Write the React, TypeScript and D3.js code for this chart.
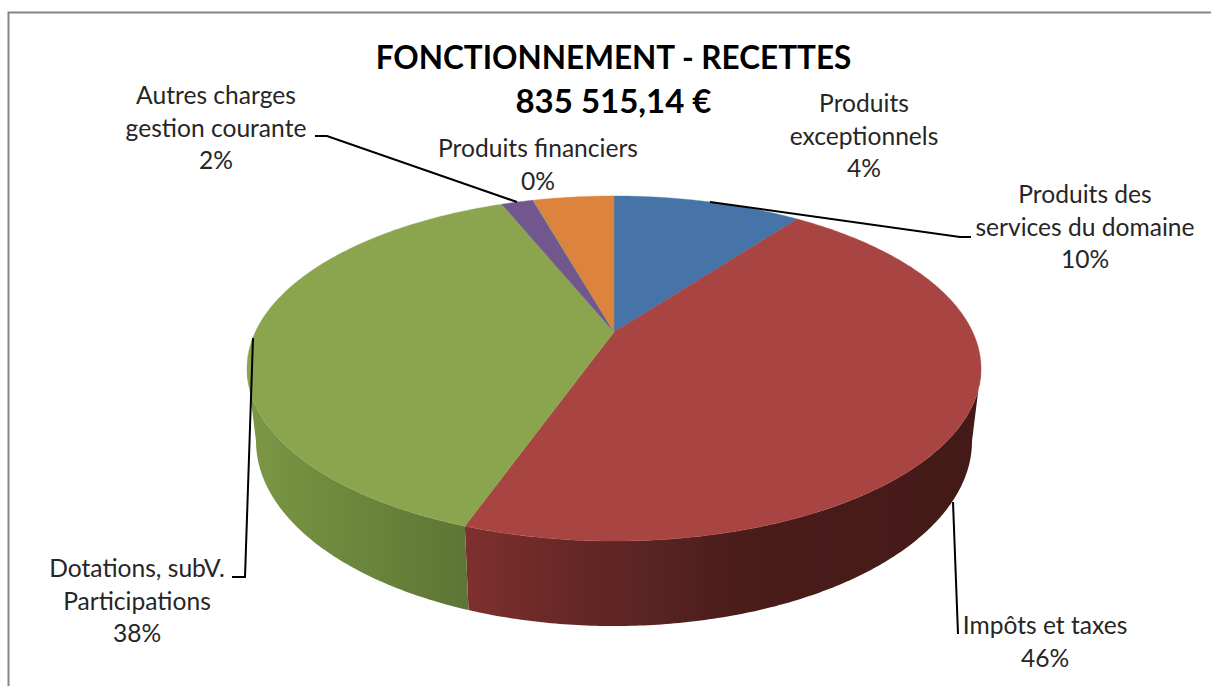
import React, { useEffect, useRef } from 'react';
import * as d3 from 'd3';

const categories = [
  'Produits des services du domaine',
  'Impôts et taxes',
  'Dotations, subV. Participations',
  'Autres charges gestion courante',
  'Produits financiers',
  'Produits exceptionnels',
];
const values = [10.2, 45.2, 38.5, 1.7, 0.03, 4.37];
const colors = ['#4674a8', '#a84543', '#8aa54e', '#72578f', '#4198af', '#dc843e'];

const titleLines = ['FONCTIONNEMENT - RECETTES', '835 515,14 €'];

// text lines of each data label, same order as categories
const labelLines = [
  ['Produits des', 'services du domaine', '10%'],
  ['Impôts et taxes', '46%'],
  ['Dotations, subV.', 'Participations', '38%'],
  ['Autres charges', 'gestion courante', '2%'],
  ['Produits financiers', '0%'],
  ['Produits', 'exceptionnels', '4%'],
];
const labelPos = [
  { x: 1085, y: 203 },
  { x: 1045, y: 634 },
  { x: 137, y: 577 },
  { x: 216, y: 104 },
  { x: 538, y: 157 },
  { x: 864, y: 112 },
];
const leaders = [
  [[710, 202], [960, 237], [971, 237]],
  [[953, 502], [958, 634]],
  [[253, 338], [245, 577], [232, 577]],
  [[315, 136], [327, 136], [517, 202]],
];

const FONT = 'Lato, "Open Sans", sans-serif';

// the pie is a circle seen in perspective: apex is where the slices meet
const apex = { x: 614, y: 332 };
const persp = { k: 358.7, a: 164.8, c: -0.2116 };
const topEllipse = { cx: 614, cy: 368.5, rx: 367, ry: 172.5 };
const botEllipse = { cx: 614, cy: 441, rx: 358, ry: 185 };

const project = (t: number): [number, number] => {
  const u = Math.sin(t);
  const v = -Math.cos(t);
  const den = 1 + persp.c * v;
  return [apex.x + (persp.k * u) / den, apex.y + (persp.a * v) / den];
};

const projectBottom = (t: number): [number, number] => {
  const [x, y] = project(t);
  return [
    botEllipse.cx + ((x - topEllipse.cx) * botEllipse.rx) / topEllipse.rx,
    botEllipse.cy + ((y - topEllipse.cy) * botEllipse.ry) / topEllipse.ry,
  ];
};

const sweep = (a: number, b: number) => [...d3.range(a, b, 0.01), b];

const App = () => {
  const svgRef = useRef<SVGSVGElement>(null);

  useEffect(() => {
    const svg = d3.select(svgRef.current);
    svg.selectAll('*').remove();

    const line = d3.line();
    const arcs = d3.pie<number>().sort(null)(values);

    // frame of the chart, only top and left show
    svg.append('path')
      .attr('d', 'M8.5,686V12.5H1211')
      .attr('fill', 'none')
      .attr('stroke', '#868686')
      .attr('stroke-width', 2);

    const defs = svg.append('defs');
    const addGrad = (id: string, x1: number, x2: number, stops: [number, string][]) => {
      const g = defs.append('linearGradient')
        .attr('id', id)
        .attr('gradientUnits', 'userSpaceOnUse')
        .attr('x1', x1).attr('x2', x2).attr('y1', 0).attr('y2', 0);
      stops.forEach(s => g.append('stop').attr('offset', s[0]).attr('stop-color', s[1]));
    };
    addGrad('side1', 465, 985, [[0, '#7e302e'], [0.2, '#672826'], [0.35, '#5a2422'], [0.53, '#4a1c1a'], [1, '#431a17']]);
    addGrad('side2', 250, 470, [[0, '#7b9746'], [0.3, '#708d3f'], [1, '#5d7535']]);

    // visible wall runs between the left and right extremes of the ellipse
    const rightEdge = Math.acos(persp.c);
    const leftEdge = 2 * Math.PI - rightEdge;
    arcs.forEach((d, i) => {
      const from = Math.max(d.startAngle, rightEdge);
      const to = Math.min(d.endAngle, leftEdge);
      if (to <= from) return;
      const ts = sweep(from, to);
      const pts = [...ts.map(project), ...ts.slice().reverse().map(projectBottom)];
      svg.append('path')
        .attr('d', line(pts) + 'Z')
        .attr('fill', `url(#side${i})`);
    });

    // top face
    arcs.forEach((d, i) => {
      const pts: [number, number][] = [[apex.x, apex.y], ...sweep(d.startAngle, d.endAngle).map(project)];
      svg.append('path')
        .attr('d', line(pts) + 'Z')
        .attr('fill', colors[i])
        .attr('stroke', colors[i])
        .attr('stroke-width', 0.4);
    });

    leaders.forEach(pts => {
      svg.append('path')
        .attr('d', line(pts as [number, number][]))
        .attr('fill', 'none')
        .attr('stroke', '#000')
        .attr('stroke-width', 2);
    });

    // titles
    svg.selectAll('.title')
      .data(titleLines)
      .enter()
      .append('text')
      .attr('class', 'title')
      .attr('x', 613.5)
      .attr('y', (d, i) => (i === 0 ? 69 : 113))
      .attr('text-anchor', 'middle')
      .attr('font-family', FONT)
      .attr('font-weight', 700)
      .attr('font-size', (d, i) => (i === 0 ? 31.5 : 33))
      .attr('fill', '#000')
      .text(d => d);

    labelLines.forEach((lines, i) => {
      svg.append('g')
        .selectAll('text')
        .data(lines)
        .enter()
        .append('text')
        .attr('x', labelPos[i].x)
        .attr('y', (d, j) => labelPos[i].y + j * 32.7)
        .attr('text-anchor', 'middle')
        .attr('font-family', FONT)
        .attr('font-size', 24.6)
        .attr('fill', '#262626')
        .text(d => d);
    });
  }, []);

  return (
    <svg
      ref={svgRef}
      width={1211}
      height={686}
      role="img"
      aria-label={categories.join(', ')}
      style={{ position: 'absolute', left: 0, top: 0, background: '#fff' }}
    />
  );
};

export default App;
